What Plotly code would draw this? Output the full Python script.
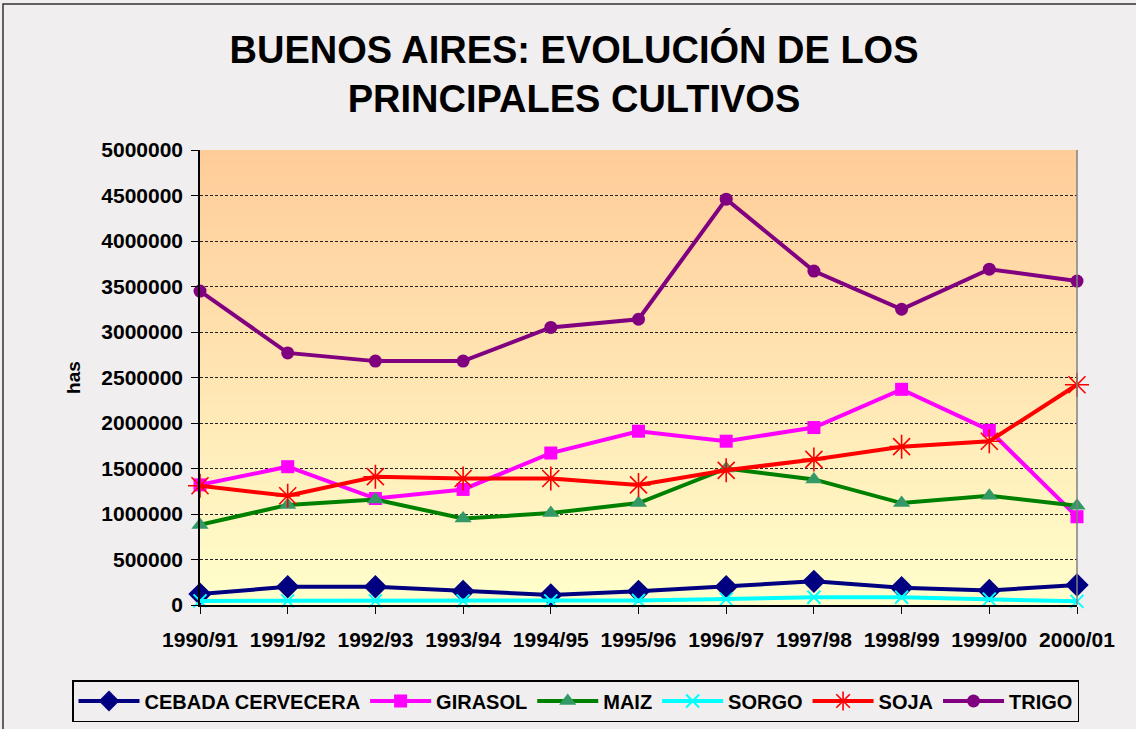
import base64, struct, zlib
import plotly.graph_objects as go

campanas = ["1990/91", "1991/92", "1992/93", "1993/94", "1994/95", "1995/96",
            "1996/97", "1997/98", "1998/99", "1999/00", "2000/01"]

cebada = [120000, 200000, 200000, 150000, 110000, 150000, 200000, 260000, 190000, 160000, 220000]
girasol = [1320000, 1520000, 1170000, 1270000, 1670000, 1910000, 1800000, 1950000, 2370000, 1920000, 970000]
maiz = [880000, 1100000, 1160000, 950000, 1010000, 1120000, 1500000, 1380000, 1120000, 1200000, 1090000]
sorgo = [45000, 45000, 45000, 45000, 45000, 50000, 65000, 85000, 85000, 65000, 40000]
soja = [1310000, 1200000, 1410000, 1390000, 1390000, 1320000, 1480000, 1600000, 1740000, 1800000, 2420000]
trigo = [3450000, 2770000, 2680000, 2680000, 3050000, 3140000, 4460000, 3670000, 3250000, 3690000, 3560000]

y_ticks = list(range(0, 5000001, 500000))


def gradient_png(top, bottom, n=256):
    rows = []
    for i in range(n):
        t = i / (n - 1)
        px = bytes(int(round(top[k] + (bottom[k] - top[k]) * t)) for k in range(3))
        rows.append(b"\x00" + px)
    raw = b"".join(rows)

    def chunk(tag, data):
        c = struct.pack(">I", len(data)) + tag + data
        return c + struct.pack(">I", zlib.crc32(tag + data) & 0xFFFFFFFF)

    png = b"\x89PNG\r\n\x1a\n"
    png += chunk(b"IHDR", struct.pack(">IIBBBBB", 1, n, 8, 2, 0, 0, 0))
    png += chunk(b"IDAT", zlib.compress(raw))
    png += chunk(b"IEND", b"")
    return "data:image/png;base64," + base64.b64encode(png).decode()


x_idx = list(range(len(campanas)))
FONT = "Arial, Liberation Sans, sans-serif"

W, H = 1136, 729
L, R, T, B = 200, 59, 150, 124
PW, PH = W - L - R, H - T - B

series = [
    ("CEBADA CERVECERA", cebada, "#000080", "#000080", "diamond", 18, None),
    ("GIRASOL", girasol, "#FF00FF", "#FF00FF", "square", 13, None),
    ("MAIZ", maiz, "#008000", "#339966", "triangle-up", 15, None),
    ("SORGO", sorgo, "#00FFFF", "#00FFFF", "x-thin-open", 13, 2),
    ("SOJA", soja, "#FF0000", "#FF0000", "asterisk-open", 20, 1.6),
    ("TRIGO", trigo, "#800080", "#800080", "circle", 13, None),
]

fig = go.Figure()
for name, vals, lc, mc, sym, size, mlw in series:
    marker = dict(symbol=sym, size=size, color=mc)
    marker["line"] = dict(color=mc, width=mlw) if mlw else dict(width=0)
    fig.add_trace(go.Scatter(x=x_idx, y=vals, name="<b>%s</b>" % name, mode="lines+markers",
                             line=dict(color=lc, width=4), marker=marker,
                             cliponaxis=False))

fig.update_layout(
    width=W, height=H,
    margin=dict(l=L, r=R, t=T, b=B, autoexpand=False),
    paper_bgcolor="#F0EEEF",
    plot_bgcolor="#FFFFCC",
    font=dict(family=FONT, color="black", size=20),
    title=dict(text="<b>BUENOS AIRES: EVOLUCIÓN DE LOS<br>PRINCIPALES CULTIVOS</b>",
               x=574 / W, xanchor="center", y=1 - 63 / H, yanchor="top",
               font=dict(family=FONT, size=38, color="black")),
    showlegend=True,
    legend=dict(orientation="h", x=(72 - L) / PW, xanchor="left",
                y=1 - (680 - T) / PH, yanchor="top",
                bordercolor="black", borderwidth=1.5, bgcolor="#F0EEEF",
                font=dict(family=FONT, size=20, color="black"),
                itemwidth=61, tracegroupgap=0),
    images=[dict(source=gradient_png((255, 204, 153), (255, 255, 204)),
                 xref="paper", yref="paper", x=0, y=1, sizex=1, sizey=1,
                 sizing="stretch", xanchor="left", yanchor="top", layer="below")],
    shapes=[
        dict(type="line", xref="paper", yref="paper", x0=1, x1=1, y0=0, y1=1,
             line=dict(color="#808080", width=1.5)),
        dict(type="rect", xref="paper", yref="paper",
             x0=(3 - L) / PW, x1=(W + 5 - L) / PW,
             y0=1 - (H + 5 - T) / PH, y1=1 + (T - 4) / PH,
             line=dict(color="#333333", width=1.5), fillcolor="rgba(0,0,0,0)", layer="below"),
    ],
)

fig.update_xaxes(
    range=[0, 10], tickmode="array", tickvals=x_idx,
    ticktext=["<b>%s</b>" % c for c in campanas],
    showgrid=False, zeroline=False,
    showline=True, linecolor="black", linewidth=1.5,
    ticks="outside", ticklen=7, tickcolor="black", tickwidth=1,
    ticklabelstandoff=8,
    tickfont=dict(family=FONT, size=21, color="black"),
)
fig.update_yaxes(
    range=[0, 5000000], tickmode="array", tickvals=y_ticks,
    ticktext=["<b>%d</b>" % v for v in y_ticks],
    showgrid=True, gridcolor="#222222", gridwidth=1, griddash="3px,2px",
    zeroline=False,
    showline=True, linecolor="black", linewidth=1.5,
    ticks="outside", ticklen=7, tickcolor="black", tickwidth=1,
    ticklabelstandoff=4,
    tickfont=dict(family=FONT, size=21, color="black"),
    title=dict(text="<b>has</b>", font=dict(family=FONT, size=19, color="black"), standoff=16),
)

fig.write_html("out.html", config={"displayModeBar": False},
               post_script="document.body.style.margin='0px';")
